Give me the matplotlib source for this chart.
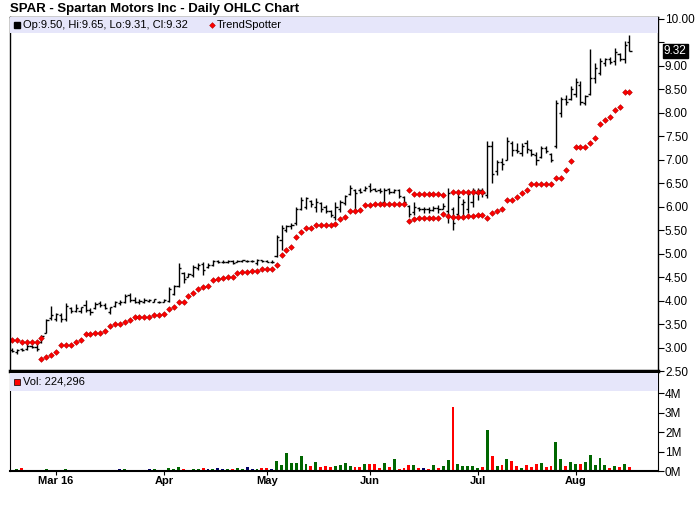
import pandas as pd
import numpy as np
import matplotlib
matplotlib.use('Agg')
import matplotlib.pyplot as plt
from matplotlib.patches import Rectangle
import matplotlib.transforms as mtransforms

plt.rcParams['font.family'] = ['Liberation Sans', 'DejaVu Sans']

# trading days Feb 17 - Aug 16, 2016
dates = pd.bdate_range('2016-02-17', '2016-08-16')
dates = dates[~dates.isin(pd.to_datetime(['2016-03-25', '2016-05-30', '2016-07-04']))]

highs = [2.99, 2.97, 2.99, 3.08, 3.06, 3.10, 3.27, 3.61, 3.88, 3.74,
         3.73, 3.95, 3.86, 3.93, 3.87, 4.01, 3.84, 3.97, 4.00, 3.94,
         3.87, 4.00, 4.01, 4.14, 4.16, 4.08, 4.03, 4.05, 4.03, 4.04,
         3.99, 4.03, 4.29, 4.33, 4.80, 4.61, 4.59, 4.76, 4.80, 4.82,
         4.80, 4.87, 4.86, 4.86, 4.86, 4.87, 4.86, 4.87, 4.86, 4.86,
         4.88, 4.87, 4.87, 4.87, 5.40, 5.61, 5.61, 5.66, 6.00, 6.20,
         6.20, 6.14, 6.18, 6.10, 6.04, 5.93, 6.10, 6.14, 6.25, 6.46,
         6.38, 6.40, 6.44, 6.50, 6.40, 6.40, 6.40, 6.40, 6.38, 6.38,
         6.22, 6.04, 6.10, 6.00, 6.00, 6.00, 6.02, 6.04, 6.08, 6.40,
         6.00, 6.36, 6.17, 6.36, 6.40, 6.40, 6.40, 7.39, 7.39, 7.00,
         7.04, 7.49, 7.39, 7.36, 7.36, 7.43, 7.22, 7.17, 7.29, 7.29,
         7.14, 8.27, 8.34, 8.38, 8.56, 8.74, 8.67, 8.38, 9.35, 9.06,
         9.17, 9.17, 9.19, 9.38, 9.28, 9.52, 9.65]
lows = [2.91, 2.86, 2.92, 2.95, 2.98, 2.93, 3.10, 3.30, 3.59, 3.57,
        3.55, 3.57, 3.74, 3.76, 3.74, 3.76, 3.69, 3.82, 3.87, 3.82,
        3.71, 3.87, 3.91, 3.95, 3.97, 3.95, 3.93, 3.95, 3.97, 3.96,
        3.95, 3.97, 3.97, 4.12, 4.29, 4.38, 4.50, 4.50, 4.65, 4.55,
        4.70, 4.74, 4.80, 4.80, 4.80, 4.78, 4.82, 4.82, 4.83, 4.82,
        4.75, 4.82, 4.82, 4.80, 4.92, 5.08, 5.46, 5.53, 5.61, 5.93,
        5.95, 6.00, 5.88, 5.88, 5.87, 5.78, 5.72, 5.88, 6.03, 6.25,
        5.89, 6.30, 6.33, 6.31, 6.33, 6.30, 6.03, 6.28, 6.30, 6.18,
        6.05, 5.78, 5.83, 5.90, 5.87, 5.87, 5.90, 5.87, 5.94, 5.66,
        5.51, 5.78, 5.80, 5.86, 6.00, 6.14, 6.20, 6.19, 6.51, 6.68,
        6.78, 7.00, 7.07, 7.14, 7.07, 7.14, 7.07, 6.89, 7.04, 7.14,
        6.95, 7.25, 7.92, 8.17, 8.27, 8.34, 8.17, 8.17, 8.38, 8.64,
        8.81, 9.00, 9.03, 9.02, 9.10, 9.06, 9.31]
opens = [2.95, 2.90, 2.96, 2.96, 3.04, 3.02, 3.12, 3.32, 3.62, 3.60,
         3.70, 3.60, 3.84, 3.78, 3.78, 3.90, 3.80, 3.84, 3.95, 3.90,
         3.75, 3.88, 3.94, 3.97, 4.12, 4.02, 3.96, 3.98, 3.99, 3.98,
         3.98, 3.97, 4.00, 4.15, 4.32, 4.58, 4.50, 4.55, 4.70, 4.78,
         4.72, 4.76, 4.84, 4.83, 4.82, 4.85, 4.83, 4.84, 4.85, 4.84,
         4.80, 4.86, 4.85, 4.83, 4.95, 5.30, 5.50, 5.58, 5.65, 5.95,
         6.00, 6.12, 6.00, 6.08, 6.00, 5.90, 5.78, 5.95, 6.08, 6.28,
         6.35, 6.35, 6.35, 6.45, 6.38, 6.36, 6.10, 6.38, 6.32, 6.35,
         6.20, 6.02, 5.88, 5.98, 5.95, 5.96, 5.92, 5.98, 5.96, 5.90,
         5.95, 5.85, 6.05, 5.95, 6.10, 6.30, 6.35, 6.25, 7.30, 6.75,
         6.95, 7.00, 7.35, 7.20, 7.15, 7.35, 7.20, 7.10, 7.05, 7.25,
         7.12, 7.30, 8.00, 8.30, 8.30, 8.40, 8.60, 8.20, 8.40, 8.75,
         8.85, 9.05, 9.15, 9.10, 9.25, 9.15, 9.50]
closes = [2.93, 2.95, 2.94, 3.04, 3.01, 2.96, 3.24, 3.58, 3.70, 3.72,
          3.60, 3.88, 3.78, 3.85, 3.86, 3.80, 3.75, 3.92, 3.90, 3.85,
          3.86, 3.96, 3.96, 4.10, 4.02, 3.98, 4.00, 4.02, 4.02, 4.03,
          3.96, 4.01, 4.24, 4.30, 4.70, 4.45, 4.56, 4.72, 4.76, 4.65,
          4.76, 4.84, 4.83, 4.83, 4.85, 4.80, 4.85, 4.86, 4.85, 4.85,
          4.86, 4.84, 4.83, 4.83, 5.35, 5.55, 5.58, 5.62, 5.95, 6.15,
          6.18, 6.05, 6.10, 5.95, 5.90, 5.82, 6.00, 6.10, 6.22, 6.40,
          6.30, 6.32, 6.40, 6.35, 6.34, 6.33, 6.36, 6.32, 6.35, 6.22,
          6.10, 5.85, 6.00, 5.95, 5.95, 5.92, 5.98, 5.95, 6.02, 6.30,
          5.65, 6.20, 6.10, 6.28, 6.35, 6.36, 6.30, 7.30, 6.70, 6.95,
          6.90, 7.40, 7.20, 7.18, 7.30, 7.22, 7.12, 7.00, 7.25, 7.18,
          7.00, 8.20, 8.30, 8.22, 8.50, 8.65, 8.22, 8.35, 8.75, 8.95,
          9.10, 9.15, 9.08, 9.30, 9.15, 9.45, 9.32]

N = None
trend_lo = [N, N, N, N, N, N, 2.75, 2.80, 2.85, 2.90,
            3.05, 3.06, 3.06, 3.11, 3.17, 3.28, 3.28, 3.30, 3.32, 3.35,
            3.45, 3.50, 3.51, 3.54, 3.58, 3.65, 3.65, 3.65, 3.65, 3.69,
            3.70, 3.72, 3.82, 3.86, 3.96, 3.96, 4.09, 4.17, 4.25, 4.28,
            4.30, 4.44, 4.45, 4.48, 4.50, 4.51, 4.58, 4.60, 4.60, 4.62,
            4.62, 4.67, 4.67, 4.67, 4.76, 4.97, 5.08, 5.15, 5.35, 5.47,
            5.54, 5.54, 5.62, 5.62, 5.62, 5.62, 5.64, 5.73, 5.77, 5.91,
            5.91, 5.93, 6.04, 6.04, 6.05, 6.05, 6.05, 6.05, 6.05, 6.05,
            6.06, 5.70, 5.73, 5.75, 5.75, 5.75, 5.75, 5.75, 5.84, 5.80,
            5.78, 5.78, 5.79, 5.80, 5.81, 5.82, 5.82, 5.75, 5.86, 5.91,
            5.95, 6.14, 6.14, 6.20, 6.29, 6.36, 6.48, 6.48, 6.48, 6.48,
            6.48, 6.61, 6.61, 6.78, 6.97, 7.27, 7.27, 7.27, 7.35, 7.46,
            7.76, 7.85, 7.91, 8.06, 8.13, 8.44, 8.44]
trend_hi = [3.16, 3.16, 3.12, 3.12, 3.12, 3.12, 3.20] + [N] * 74 + \
           [6.36, 6.27, 6.26, 6.26, 6.26, 6.26, 6.26, 6.24, N,
            6.32, 6.32, 6.32, 6.32, 6.32, 6.32, 6.32] + [N] * 30

# volume in millions, direction vs previous close: u up, d down, n unchanged
volume = [0.03, 0.10, 0.15, 0.05, 0.02, 0.05, 0.05, 0.10, 0.05, 0.05,
          0.05, 0.10, 0.05, 0.05, 0.05, 0.05, 0.02, 0.02, 0.05, 0.02,
          0.05, 0.05, 0.10, 0.10, 0.05, 0.05, 0.05, 0.05, 0.10, 0.10,
          0.05, 0.05, 0.15, 0.10, 0.20, 0.10, 0.05, 0.10, 0.10, 0.15,
          0.10, 0.10, 0.15, 0.10, 0.10, 0.10, 0.15, 0.10, 0.20, 0.10,
          0.10, 0.15, 0.15, 0.10, 0.51, 0.31, 0.92, 0.41, 0.41, 0.77,
          0.36, 0.26, 0.46, 0.20, 0.26, 0.21, 0.26, 0.31, 0.41, 0.26,
          0.20, 0.20, 0.36, 0.36, 0.36, 0.15, 0.41, 0.20, 0.62, 0.10,
          0.15, 0.31, 0.31, 0.15, 0.15, 0.10, 0.31, 0.15, 0.26, 0.56,
          3.30, 0.36, 0.26, 0.26, 0.26, 0.15, 0.20, 2.08, 0.77, 0.26,
          0.31, 0.62, 0.51, 0.26, 0.15, 0.31, 0.20, 0.36, 0.41, 0.20,
          0.26, 1.48, 0.62, 0.26, 0.46, 0.36, 0.36, 0.46, 0.82, 0.31,
          0.67, 0.31, 0.15, 0.26, 0.20, 0.36, 0.224296]
vol_dir = list("uududduuuu"
               "duduuddudd"
               "uunudduunu"
               "duuuuduuud"
               "nunnuduunn"
               "uddnuuuuuu"
               "ududdduuuu"
               "ddudddudud"
               "ddudnduduu"
               "duuuuududu"
               "duddudddud"
               "duuduuduuu"
               "uududud")

vol_colors = {'u': '#006600', 'd': '#ff0000', 'n': '#000066'}

x = np.arange(len(dates))
W, H = 700, 512
fig = plt.figure(figsize=(W / 100, H / 100), dpi=100)

def px_axes(left, top, right, bottom):
    return fig.add_axes([left / W, 1 - bottom / H, (right - left) / W, (bottom - top) / H])

ax = px_axes(10, 17, 658, 371)
axv = px_axes(10, 373, 658, 471)

x0 = -0.41
x1 = x0 + (658 - 10) / 4.9
lw = 1.0
dot = dict(ls='none', marker='D', ms=2.9, mfc='#ff0000', mec='#b00000', mew=0.4)

# price pane
ax.vlines(x, lows, highs, color='black', lw=lw)
ax.hlines(opens, x - 0.45, x, color='black', lw=lw)
ax.hlines(closes, x, x + 0.45, color='black', lw=lw)
tl = np.array([np.nan if v is None else v for v in trend_lo])
th = np.array([np.nan if v is None else v for v in trend_hi])
ax.plot(x, tl, **dot)
ax.plot(x, th, **dot)
ax.set_xlim(x0, x1)
ax.set_ylim(2.5, 10.04)
yt = np.arange(2.5, 10.01, 0.5)
ax.set_yticks(yt)
# the last-price box covers the 9.50 label
ax.set_yticklabels(['' if abs(v - 9.5) < 1e-6 else f'{v:.2f}' for v in yt])
ax.yaxis.tick_right()
ax.tick_params(axis='y', direction='out', length=4, width=0.8, labelsize=8.5, pad=1)
ax.set_xticks([])
for s in ['top', 'left', 'right']:
    ax.spines[s].set_linewidth(1)
ax.spines['bottom'].set_linewidth(2.5)

band_h = 16 / 354
ax.add_patch(Rectangle((0, 1 - band_h), 1, band_h, transform=ax.transAxes,
                       facecolor='#e6e6fa', edgecolor='none', zorder=3))
ax.plot([6.5 / 648], [1 - band_h / 2], 's', ms=4.2, color='black',
        transform=ax.transAxes, clip_on=False, zorder=4)
ax.text(13 / 648, 1 - band_h / 2,
        f'Op:{opens[-1]:.2f}, Hi:{highs[-1]:.2f}, Lo:{lows[-1]:.2f}, Cl:{closes[-1]:.2f}',
        transform=ax.transAxes, fontsize=8, va='center', zorder=4)
ax.plot([202 / 648], [1 - band_h / 2], transform=ax.transAxes, clip_on=False,
        zorder=4, **dot)
ax.text(207 / 648, 1 - band_h / 2, 'TrendSpotter', transform=ax.transAxes,
        fontsize=8, va='center', zorder=4)

# last price box
trans = mtransforms.blended_transform_factory(ax.transAxes, ax.transData)
ax.text(1 + 6 / 648, closes[-1], f'{closes[-1]:.2f}', transform=trans, color='white',
        fontsize=8.5, va='center', ha='left',
        bbox=dict(boxstyle='square,pad=0.1', facecolor='black', edgecolor='black'))

# volume pane
axv.bar(x, volume, width=0.6, color=[vol_colors[d] for d in vol_dir])
axv.set_xlim(x0, x1)
axv.set_ylim(0, 5.03)
axv.set_yticks([0, 1, 2, 3, 4])
axv.set_yticklabels(['0M', '1M', '2M', '3M', '4M'])
axv.yaxis.tick_right()
axv.tick_params(axis='y', direction='out', length=4, width=0.8, labelsize=8.5, pad=1)
axv.spines['top'].set_visible(False)
axv.spines['bottom'].set_linewidth(1.5)

month_idx = [int(np.argmax(dates.month == m)) for m in range(3, 9)]
month_lbl = ['Mar 16'] + [dates[i].strftime('%b') for i in month_idx[1:]]
axv.set_xticks(month_idx)
axv.set_xticklabels(month_lbl, fontsize=8, fontweight='bold')
axv.tick_params(axis='x', direction='out', length=3, width=0.8, pad=0.5)

vband = 18 / 98
axv.add_patch(Rectangle((0, 1 - vband), 1, vband, transform=axv.transAxes,
                        facecolor='#e6e6fa', edgecolor='none', zorder=3))
axv.plot([6.5 / 648], [1 - vband / 2], 's', ms=4.2, mfc='#ff0000', mec='black', mew=0.5,
         transform=axv.transAxes, clip_on=False, zorder=4)
axv.text(13 / 648, 1 - vband / 2, f'Vol: {round(volume[-1] * 1e6):,}',
         transform=axv.transAxes, fontsize=8, va='center', zorder=4)

fig.text(10 / W, 1 - 9 / H, 'SPAR - Spartan Motors Inc - Daily OHLC Chart',
         fontsize=9.5, fontweight='bold', va='center', ha='left')

fig.savefig('out.png', dpi=100)
